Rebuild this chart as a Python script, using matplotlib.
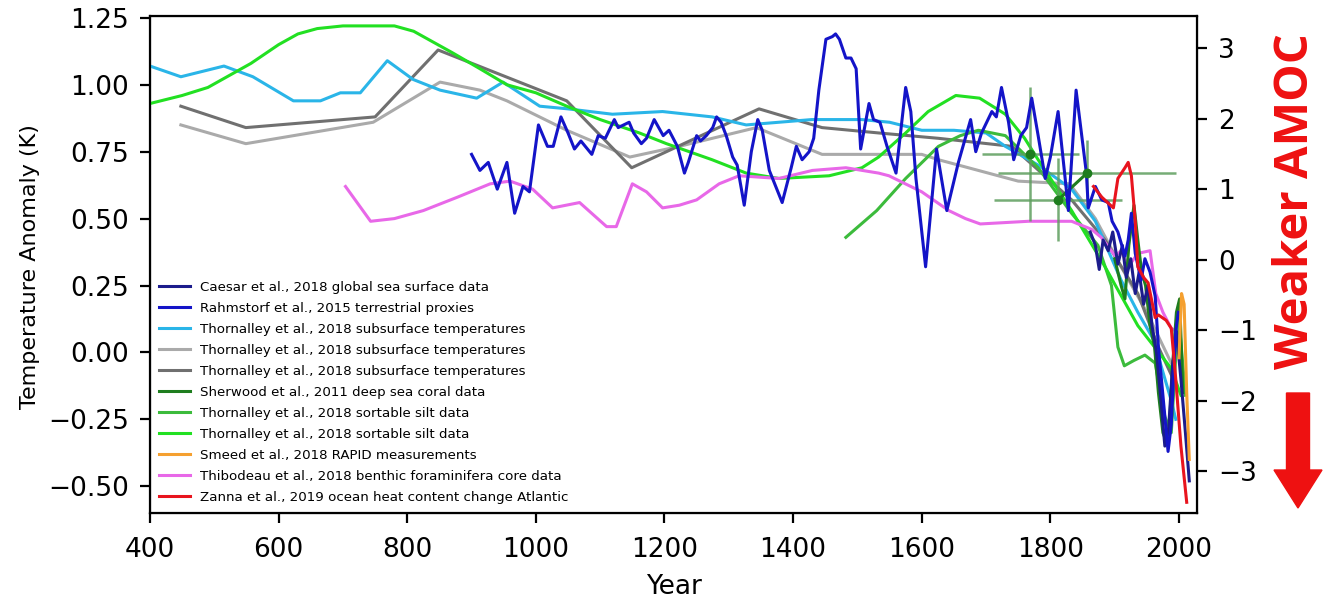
import matplotlib
matplotlib.use("Agg")
import matplotlib.pyplot as plt
from matplotlib.patches import FancyArrow

# ---- data (year, temperature anomaly K) ----
caesar_yr = [1862, 1870, 1876, 1882, 1890, 1897, 1905, 1912, 1918, 1925, 1932, 1938, 1945,
             1952, 1958, 1965, 1972, 1978, 1984, 1990, 1996, 2003, 2010, 2016]
caesar_val = [0.45, 0.40, 0.31, 0.42, 0.38, 0.45, 0.33, 0.40, 0.28, 0.35, 0.22, 0.30, 0.18,
              0.25, 0.10, 0.00, -0.18, -0.35, -0.28, -0.05, 0.08, -0.10, -0.30, -0.48]

rahm_yr = [900, 913, 926, 940, 955, 967, 980, 990, 1004, 1018, 1027, 1039, 1050, 1060, 1070,
           1087, 1097, 1108, 1122, 1128, 1145, 1152, 1164, 1172, 1184, 1198, 1207, 1220, 1231,
           1237, 1250, 1256, 1265, 1275, 1281, 1288, 1296, 1306, 1313, 1324, 1335, 1345, 1352,
           1363, 1373, 1383, 1397, 1405, 1414, 1425, 1432, 1440, 1451, 1461, 1466, 1472, 1482,
           1490, 1498, 1505, 1518, 1525, 1535, 1546, 1560, 1575, 1583, 1591, 1606, 1623, 1639,
           1657, 1676, 1684, 1693, 1709, 1716, 1724, 1735, 1743, 1754, 1763, 1771, 1781, 1792,
           1800, 1812, 1823, 1828, 1840, 1856, 1859, 1870, 1880, 1890, 1896, 1905, 1916, 1921,
           1926, 1932, 1941, 1947, 1955, 1963, 1968, 1975, 1983, 1988, 1995, 1999]
rahm_val = [0.74, 0.68, 0.71, 0.61, 0.71, 0.52, 0.62, 0.60, 0.85, 0.77, 0.77, 0.88, 0.82, 0.76,
            0.79, 0.74, 0.81, 0.80, 0.87, 0.84, 0.86, 0.82, 0.78, 0.80, 0.87, 0.81, 0.83, 0.77,
            0.67, 0.71, 0.81, 0.79, 0.81, 0.84, 0.88, 0.86, 0.81, 0.73, 0.70, 0.55, 0.75, 0.87,
            0.83, 0.68, 0.62, 0.56, 0.69, 0.77, 0.72, 0.75, 0.80, 0.98, 1.17, 1.18, 1.19, 1.17,
            1.10, 1.10, 1.06, 0.76, 0.93, 0.87, 0.86, 0.77, 0.67, 0.99, 0.90, 0.65, 0.32, 0.76,
            0.53, 0.71, 0.87, 0.75, 0.82, 0.90, 0.88, 0.99, 0.86, 0.72, 0.81, 0.84, 0.95, 0.81,
            0.65, 0.73, 0.90, 0.65, 0.53, 0.98, 0.67, 0.54, 0.62, 0.57, 0.56, 0.49, 0.45, 0.36,
            0.42, 0.52, 0.37, 0.27, 0.35, 0.30, 0.21, 0.02, -0.16, -0.37, -0.27, 0.08, 0.15]

cyan_yr = [400, 448, 515, 560, 623, 665, 696, 727, 769, 809, 851, 908, 949, 1006, 1050, 1119,
           1197, 1274, 1327, 1429, 1507, 1550, 1600, 1650, 1700, 1730, 1781, 1833, 1870, 1910,
           1936, 1960, 1988, 1995]
cyan_val = [1.07, 1.03, 1.07, 1.03, 0.94, 0.94, 0.97, 0.97, 1.09, 1.02, 0.98, 0.95, 1.01, 0.92,
            0.91, 0.89, 0.90, 0.88, 0.85, 0.87, 0.87, 0.86, 0.83, 0.83, 0.82, 0.77, 0.70, 0.61,
            0.49, 0.27, 0.15, 0.05, -0.18, -0.25]

lgray_yr = [448, 549, 747, 851, 913, 955, 1048, 1146, 1223, 1343, 1445, 1600, 1626, 1719, 1750,
            1830, 1870, 1910, 1950, 1990]
lgray_val = [0.85, 0.78, 0.86, 1.01, 0.98, 0.94, 0.83, 0.73, 0.77, 0.84, 0.74, 0.74, 0.72, 0.66,
             0.64, 0.63, 0.50, 0.32, 0.15, -0.05]

dgray_yr = [448, 549, 750, 848, 1048, 1149, 1347, 1445, 1533, 1626, 1740, 1833, 1885, 1936, 1968, 1995]
dgray_val = [0.92, 0.84, 0.88, 1.13, 0.94, 0.69, 0.91, 0.84, 0.82, 0.80, 0.77, 0.57, 0.42, 0.22,
             0.02, -0.12]

coral_yr = [1769, 1812, 1857]
coral_val = [0.74, 0.57, 0.67]
coral_xerr = [75, 99, 138]
coral_yerr = [0.25, 0.155, 0.125]
coral_late_yr = [1900, 1910, 1916, 1922, 1930, 1936, 1942, 1948, 1955, 1962, 1968, 1975, 1980,
                 1985, 1990, 1996, 2001, 2006]
coral_late_val = [0.35, 0.25, 0.20, 0.40, 0.55, 0.42, 0.30, 0.25, 0.10, 0.02, -0.15, -0.30,
                  -0.33, -0.28, -0.05, 0.15, 0.20, -0.15]

silt1_yr = [1482, 1530, 1575, 1626, 1660, 1688, 1730, 1781, 1833, 1874, 1895, 1905, 1915, 1930,
            1947, 1963, 1978, 1988, 1999, 2010]
silt1_val = [0.43, 0.53, 0.65, 0.77, 0.81, 0.83, 0.81, 0.69, 0.52, 0.40, 0.25, 0.02, -0.05,
             -0.03, -0.01, -0.04, -0.24, -0.30, 0.15, -0.16]

silt2_yr = [400, 450, 490, 557, 600, 630, 660, 700, 780, 810, 840, 870, 913, 955, 1000, 1048,
            1100, 1161, 1203, 1274, 1327, 1378, 1456, 1507, 1533, 1575, 1610, 1653, 1690, 1730,
            1760, 1781, 1833, 1885, 1936, 1988, 2003]
silt2_val = [0.93, 0.96, 0.99, 1.08, 1.15, 1.19, 1.21, 1.22, 1.22, 1.20, 1.16, 1.12, 1.06, 1.00,
             0.97, 0.92, 0.87, 0.82, 0.78, 0.72, 0.67, 0.65, 0.66, 0.69, 0.73, 0.82, 0.90, 0.96,
             0.95, 0.89, 0.80, 0.72, 0.53, 0.32, 0.10, -0.06, -0.16]

rapid_yr = [2000, 2004, 2008, 2012, 2016]
rapid_val = [-0.02, 0.22, 0.18, -0.15, -0.40]

thib_yr = [704, 743, 780, 825, 878, 929, 960, 995, 1026, 1068, 1110, 1125, 1150, 1172, 1197,
           1223, 1250, 1285, 1316, 1378, 1430, 1482, 1533, 1549, 1600, 1642, 1668, 1691, 1766,
           1833, 1864, 1879, 1901, 1910, 1921, 1936, 1955, 1964, 1975, 1988, 1995]
thib_val = [0.62, 0.49, 0.50, 0.53, 0.58, 0.63, 0.64, 0.61, 0.54, 0.56, 0.47, 0.47, 0.63, 0.60,
            0.54, 0.55, 0.57, 0.63, 0.66, 0.65, 0.68, 0.69, 0.67, 0.66, 0.60, 0.53, 0.50, 0.48,
            0.49, 0.49, 0.46, 0.43, 0.36, 0.38, 0.32, 0.37, 0.38, 0.22, 0.15, 0.09, 0.08]

zanna_yr = [1867, 1880, 1898, 1905, 1916, 1921, 1926, 1932, 1936, 1945, 1952, 1963, 1968, 1980,
            1988, 1995, 2003, 2012]
zanna_val = [0.62, 0.58, 0.54, 0.65, 0.69, 0.71, 0.66, 0.49, 0.32, 0.28, 0.26, 0.13, 0.14, 0.12,
             0.09, -0.10, -0.35, -0.56]

labels = ["Caesar et al., 2018 global sea surface data",
          "Rahmstorf et al., 2015 terrestrial proxies",
          "Thornalley et al., 2018 subsurface temperatures",
          "Thornalley et al., 2018 subsurface temperatures",
          "Thornalley et al., 2018 subsurface temperatures",
          "Sherwood et al., 2011 deep sea coral data",
          "Thornalley et al., 2018 sortable silt data",
          "Thornalley et al., 2018 sortable silt data",
          "Smeed et al., 2018 RAPID measurements",
          "Thibodeau et al., 2018 benthic foraminifera core data",
          "Zanna et al., 2019 ocean heat content change Atlantic"]

c_navy = '#1c1c8c'
c_blue = '#1414c8'
c_cyan = '#2ab5e8'
c_lgray = '#aaaaaa'
c_dgray = '#707070'
c_dgreen = '#1e7d1e'
c_mgreen = '#3cbb3c'
c_bgreen = '#22e022'
c_orange = '#f5a030'
c_mag = '#e868e8'
c_red = '#e8141e'

fig = plt.figure(figsize=(13.24, 6.03), dpi=100)
ax = fig.add_axes([150 / 1324, 1 - 513 / 603, 1047 / 1324, 497 / 603])

lw = 2.2
handles = []
handles += ax.plot(caesar_yr, caesar_val, color=c_navy, lw=lw, zorder=5)
handles += ax.plot(rahm_yr, rahm_val, color=c_blue, lw=lw, zorder=6)
handles += ax.plot(cyan_yr, cyan_val, color=c_cyan, lw=lw, zorder=3)
handles += ax.plot(lgray_yr, lgray_val, color=c_lgray, lw=lw, zorder=2)
handles += ax.plot(dgray_yr, dgray_val, color=c_dgray, lw=lw, zorder=2)

ax.errorbar(coral_yr, coral_val, xerr=coral_xerr, yerr=coral_yerr, fmt='none',
            ecolor='#5e9e5e', elinewidth=1.8, alpha=0.85, zorder=4)
ax.plot(coral_yr, coral_val, 'o', color=c_dgreen, ms=6, zorder=7)
ax.plot(coral_yr[1:], coral_val[1:], color=c_dgreen, lw=lw, zorder=4)
handles += ax.plot(coral_late_yr, coral_late_val, color=c_dgreen, lw=lw, zorder=4)

handles += ax.plot(silt1_yr, silt1_val, color=c_mgreen, lw=lw, zorder=3)
handles += ax.plot(silt2_yr, silt2_val, color=c_bgreen, lw=lw, zorder=3)
handles += ax.plot(rapid_yr, rapid_val, color=c_orange, lw=lw, zorder=7)
handles += ax.plot(thib_yr, thib_val, color=c_mag, lw=lw, zorder=3)
handles += ax.plot(zanna_yr, zanna_val, color=c_red, lw=lw, zorder=8)

ax.set_xlim(400, 2028)
ax.set_ylim(-0.6, 1.257)
ax.set_xticks([400, 600, 800, 1000, 1200, 1400, 1600, 1800, 2000])
ax.set_yticks([-0.5, -0.25, 0, 0.25, 0.5, 0.75, 1.0, 1.25])
ax.tick_params(labelsize=19, width=1.6, length=7, pad=8)
ax.tick_params(axis='x', pad=10)
ax.set_xlabel("Year", fontsize=19, labelpad=8)
ax.set_ylabel("Temperature Anomaly (K)", fontsize=16)
ax.yaxis.set_label_coords(-0.105, 0.495)
for s in ax.spines.values():
    s.set_linewidth(1.6)

ax.legend(handles, labels, loc='lower left', bbox_to_anchor=(0.0, 0.0), fontsize=9.6,
          frameon=False, handlelength=2.3, labelspacing=0.6, borderaxespad=0.3,
          handletextpad=0.75)

ax2 = ax.twinx()
ax2.set_ylim(-3.59, 3.46)
ax2.set_yticks([-3, -2, -1, 0, 1, 2, 3])
ax2.tick_params(labelsize=19, width=1.6, length=7, pad=8)

fig.text(1295 / 1324, 1 - 201 / 603, "Weaker AMOC", rotation=90, color='#ee1111',
         fontsize=34, fontweight='bold', family=['Open Sans', 'DejaVu Sans'],
         ha='center', va='center')
fig.patches.append(FancyArrow(1298 / 1324, 1 - 393 / 603, 0, -(115 / 603), width=23 / 1324,
                              head_width=48 / 1324, head_length=38 / 603,
                              length_includes_head=True, color='#ee1111',
                              transform=fig.transFigure, figure=fig))

fig.savefig("out.png", dpi=100)
